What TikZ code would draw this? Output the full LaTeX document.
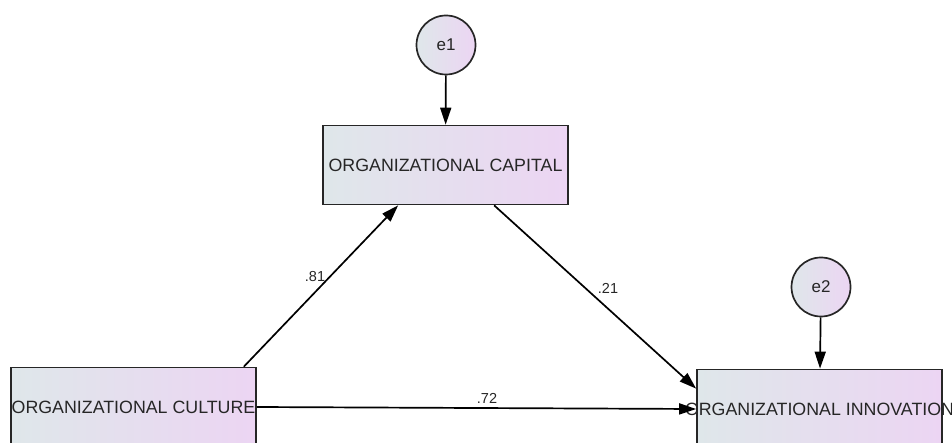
\documentclass[tikz,border=0pt]{standalone}
\usepackage{fontspec}
\setmainfont{Liberation Sans}
\usetikzlibrary{arrows.meta}
\usetikzlibrary{calc}
\definecolor{boxleft}{HTML}{DFE7EA}
\definecolor{boxright}{HTML}{ECD5F3}
\definecolor{inkgray}{HTML}{262626}
\tikzset{
  varbox/.style={draw=inkgray, line width=1.7pt, minimum width=245pt, minimum height=79pt,
    left color=boxleft, right color=boxright, inner sep=0pt},
  errcirc/.style={circle, draw=inkgray, line width=1.7pt, minimum size=59pt,
    left color=boxleft, right color=boxright, inner sep=0pt, text=inkgray,
    font=\fontsize{17}{17}\selectfont},
  boxtext/.style={text=inkgray, font=\fontsize{17.8}{17.8}\selectfont, inner sep=0pt},
  pathline/.style={draw=black, line width=1.7pt, -{Triangle[length=17pt,width=11pt]}},
  coef/.style={text=inkgray, font=\fontsize{14.5}{14.5}\selectfont, inner sep=0pt}
}
\newcommand{\obsvar}[4]{\node[varbox, label={[boxtext, name=#1-txt]center:#4}] (#1) at ( #2 , #3 ) {};}
\newcommand{\errvar}[4]{\node[errcirc] (#1) at ( #2 , #3 ) {#4};}
\newcommand{\coefl}[4]{\node[coef] (#1) at ( #2 , #3 ) {#4};}

\begin{document}
\begin{tikzpicture}[x=1pt, y=-1pt]
        \useasboundingbox (0,0) rectangle (952,443);
        \clip (0,0) rectangle (952,443);
        % observed variables
        \obsvar{cap}{445.5}{165}{ORGANIZATIONAL CAPITAL}
        \obsvar{cult}{133.5}{407}{ORGANIZATIONAL CULTURE}
        \obsvar{innov}{819.5}{409}{ORGANIZATIONAL INNOVATION}
        % error terms
        \errvar{e1}{446}{45}{e1}
        \errvar{e2}{821}{287}{e2}
        % paths
        \draw[pathline] (e1) -- (cap);
        \draw[pathline] (e2) -- (innov);
        \draw[pathline] ($(cult.north east)+(-13,0)$) -- ($(cap.south west)+(76,0)$);
        \draw[pathline] ($(cap.south west)+(172,0)$) -- ($(innov.north west)+(0,20)$);
        \draw[pathline] (cult.east) -- (innov.west);
        % coefficients
        \coefl{c81}{315}{277}{.81}
        \coefl{c21}{608}{288}{.21}
        \coefl{c72}{487}{398}{.72}
\end{tikzpicture}
\end{document}
